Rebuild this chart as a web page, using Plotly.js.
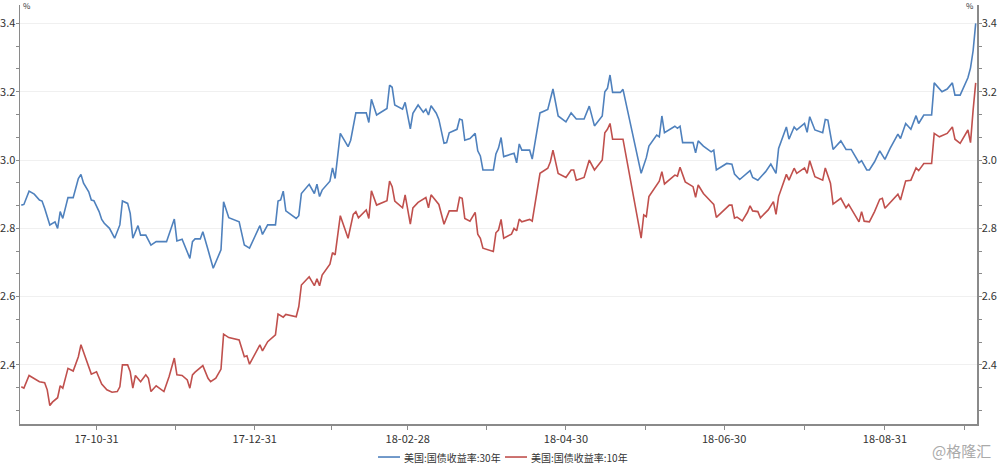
<!DOCTYPE html>
<html>
<head>
<meta charset="utf-8">
<script src="https://cdn.plot.ly/plotly-3.0.1.min.js"></script>
<style>html,body{margin:0;padding:0;background:#fff;}#chart{width:1000px;height:464px;}</style>
</head>
<body>
<div id="chart"></div>
<script>
// ---- data ----
const name30 = '美国:国债收益率:30年';
const name10 = '美国:国债收益率:10年';

const dates30 = ['2017-10-02','2017-10-03','2017-10-05','2017-10-07','2017-10-09','2017-10-10','2017-10-11','2017-10-13','2017-10-15','2017-10-16',
'2017-10-17','2017-10-18','2017-10-20','2017-10-22','2017-10-24','2017-10-25','2017-10-26','2017-10-28','2017-10-29','2017-10-30',
'2017-11-01','2017-11-02','2017-11-03','2017-11-05','2017-11-07','2017-11-09','2017-11-10','2017-11-12','2017-11-13','2017-11-14',
'2017-11-16','2017-11-17','2017-11-19','2017-11-21','2017-11-23','2017-11-27','2017-11-30','2017-12-01','2017-12-03','2017-12-06',
'2017-12-07','2017-12-08','2017-12-10','2017-12-11','2017-12-13','2017-12-15','2017-12-18','2017-12-19','2017-12-21','2017-12-25',
'2017-12-27','2017-12-29','2018-01-02','2018-01-03','2018-01-05','2018-01-08','2018-01-09','2018-01-10','2018-01-11','2018-01-12',
'2018-01-16','2018-01-17','2018-01-18','2018-01-21','2018-01-23','2018-01-24','2018-01-25','2018-01-26','2018-01-29','2018-01-30',
'2018-01-31','2018-02-02','2018-02-05','2018-02-06','2018-02-08','2018-02-12','2018-02-13','2018-02-14','2018-02-16','2018-02-20',
'2018-02-21','2018-02-22','2018-02-23','2018-02-26','2018-02-27','2018-03-01','2018-03-02','2018-03-04','2018-03-06','2018-03-07',
'2018-03-08','2018-03-09','2018-03-11','2018-03-12','2018-03-14','2018-03-15','2018-03-16','2018-03-19','2018-03-20','2018-03-21',
'2018-03-22','2018-03-24','2018-03-26','2018-03-27','2018-03-28','2018-03-29','2018-04-02','2018-04-03','2018-04-04','2018-04-05',
'2018-04-06','2018-04-10','2018-04-11','2018-04-12','2018-04-13','2018-04-16','2018-04-17','2018-04-19','2018-04-20','2018-04-23',
'2018-04-24','2018-04-25','2018-04-27','2018-04-30','2018-05-02','2018-05-04','2018-05-07','2018-05-09','2018-05-11','2018-05-14',
'2018-05-15','2018-05-16','2018-05-17','2018-05-18','2018-05-21','2018-05-22','2018-05-29','2018-05-31','2018-06-01','2018-06-04',
'2018-06-05','2018-06-06','2018-06-07','2018-06-11','2018-06-12','2018-06-13','2018-06-14','2018-06-18','2018-06-19','2018-06-20',
'2018-06-22','2018-06-25','2018-06-26','2018-06-27','2018-07-01','2018-07-03','2018-07-04','2018-07-06','2018-07-10','2018-07-11',
'2018-07-13','2018-07-16','2018-07-18','2018-07-20','2018-07-21','2018-07-24','2018-07-25','2018-07-27','2018-07-28','2018-07-31',
'2018-08-01','2018-08-02','2018-08-04','2018-08-07','2018-08-08','2018-08-09','2018-08-11','2018-08-14','2018-08-16','2018-08-18',
'2018-08-21','2018-08-22','2018-08-24','2018-08-25','2018-08-27','2018-08-29','2018-08-31','2018-09-02','2018-09-05','2018-09-06',
'2018-09-08','2018-09-10','2018-09-12','2018-09-13','2018-09-15','2018-09-18','2018-09-19','2018-09-22','2018-09-24','2018-09-26',
'2018-09-27','2018-09-29','2018-10-02','2018-10-03','2018-10-04','2018-10-05'];
const values30 = [2.868,2.870,2.909,2.900,2.883,2.880,2.859,2.810,2.819,2.800,
2.849,2.829,2.890,2.890,2.946,2.958,2.932,2.907,2.883,2.881,
2.849,2.826,2.815,2.800,2.771,2.810,2.880,2.873,2.844,2.771,
2.808,2.780,2.780,2.751,2.761,2.761,2.827,2.763,2.768,2.712,
2.761,2.769,2.769,2.790,2.737,2.683,2.737,2.878,2.831,2.819,
2.751,2.742,2.808,2.782,2.810,2.810,2.880,2.883,2.909,2.851,
2.829,2.837,2.902,2.929,2.902,2.929,2.893,2.912,2.938,2.977,
2.946,3.078,3.039,3.058,3.138,3.138,3.110,3.178,3.132,3.151,
3.219,3.213,3.161,3.149,3.169,3.091,3.137,3.161,3.140,3.149,
3.132,3.159,3.137,3.119,3.049,3.051,3.080,3.090,3.120,3.117,
3.058,3.063,3.078,3.027,3.012,2.971,2.971,3.018,3.035,3.066,
3.010,3.020,2.992,3.047,3.029,3.029,3.003,3.097,3.138,3.148,
3.176,3.208,3.129,3.112,3.138,3.120,3.120,3.158,3.100,3.129,
3.200,3.210,3.249,3.198,3.198,3.207,2.961,3.007,3.041,3.073,
3.068,3.129,3.080,3.099,3.093,3.099,3.051,3.051,3.021,3.056,
3.041,3.024,3.029,2.971,2.990,2.988,2.959,2.943,2.969,2.949,
2.941,2.966,2.988,2.961,3.034,3.097,3.061,3.097,3.088,3.107,
3.081,3.127,3.088,3.080,3.119,3.117,3.031,3.056,3.031,3.031,
2.992,2.998,2.971,2.971,2.995,3.027,3.002,3.034,3.076,3.063,
3.107,3.090,3.130,3.107,3.132,3.132,3.226,3.200,3.208,3.226,
3.190,3.190,3.241,3.270,3.320,3.400];

const dates10 = ['2017-10-02','2017-10-03','2017-10-05','2017-10-09','2017-10-11','2017-10-12','2017-10-13','2017-10-14','2017-10-16','2017-10-17',
'2017-10-18','2017-10-20','2017-10-22','2017-10-24','2017-10-25','2017-10-27','2017-10-28','2017-10-29','2017-10-31','2017-11-02',
'2017-11-04','2017-11-06','2017-11-08','2017-11-09','2017-11-10','2017-11-12','2017-11-13','2017-11-14','2017-11-15','2017-11-17',
'2017-11-19','2017-11-20','2017-11-21','2017-11-23','2017-11-26','2017-11-28','2017-11-30','2017-12-01','2017-12-03','2017-12-05',
'2017-12-06','2017-12-07','2017-12-08','2017-12-10','2017-12-11','2017-12-13','2017-12-14','2017-12-16','2017-12-18','2017-12-19',
'2017-12-21','2017-12-25','2017-12-27','2017-12-28','2017-12-29','2018-01-02','2018-01-03','2018-01-05','2018-01-08','2018-01-09',
'2018-01-11','2018-01-12','2018-01-16','2018-01-17','2018-01-18','2018-01-21','2018-01-23','2018-01-24','2018-01-25','2018-01-26',
'2018-01-29','2018-01-30','2018-01-31','2018-02-02','2018-02-05','2018-02-07','2018-02-08','2018-02-09','2018-02-12','2018-02-13',
'2018-02-14','2018-02-16','2018-02-20','2018-02-21','2018-02-22','2018-02-23','2018-02-26','2018-02-27','2018-03-01','2018-03-02',
'2018-03-04','2018-03-07','2018-03-08','2018-03-09','2018-03-12','2018-03-14','2018-03-16','2018-03-19','2018-03-20','2018-03-21',
'2018-03-22','2018-03-24','2018-03-26','2018-03-27','2018-03-28','2018-03-29','2018-04-02','2018-04-03','2018-04-04','2018-04-05',
'2018-04-06','2018-04-09','2018-04-10','2018-04-11','2018-04-12','2018-04-13','2018-04-16','2018-04-17','2018-04-19','2018-04-20',
'2018-04-23','2018-04-24','2018-04-25','2018-04-27','2018-04-30','2018-05-02','2018-05-03','2018-05-04','2018-05-07','2018-05-09',
'2018-05-11','2018-05-14','2018-05-15','2018-05-16','2018-05-17','2018-05-18','2018-05-22','2018-05-29','2018-05-30','2018-05-31',
'2018-06-01','2018-06-05','2018-06-06','2018-06-07','2018-06-11','2018-06-12','2018-06-13','2018-06-15','2018-06-18','2018-06-19',
'2018-06-20','2018-06-22','2018-06-25','2018-06-26','2018-06-27','2018-07-02','2018-07-03','2018-07-04','2018-07-05','2018-07-07',
'2018-07-09','2018-07-10','2018-07-11','2018-07-13','2018-07-14','2018-07-17','2018-07-19','2018-07-20','2018-07-21','2018-07-24',
'2018-07-25','2018-07-27','2018-07-28','2018-07-31','2018-08-01','2018-08-02','2018-08-04','2018-08-07','2018-08-08','2018-08-10',
'2018-08-11','2018-08-14','2018-08-16','2018-08-17','2018-08-21','2018-08-22','2018-08-23','2018-08-25','2018-08-27','2018-08-29',
'2018-08-30','2018-08-31','2018-09-05','2018-09-06','2018-09-08','2018-09-10','2018-09-12','2018-09-13','2018-09-15','2018-09-18',
'2018-09-19','2018-09-21','2018-09-24','2018-09-26','2018-09-27','2018-09-29','2018-10-02','2018-10-03','2018-10-04','2018-10-05'];
const values10 = [2.336,2.332,2.369,2.351,2.348,2.327,2.281,2.291,2.304,2.339,
2.332,2.390,2.382,2.424,2.459,2.417,2.393,2.373,2.380,2.344,
2.327,2.320,2.322,2.336,2.400,2.400,2.380,2.332,2.369,2.351,
2.371,2.361,2.322,2.339,2.322,2.366,2.420,2.371,2.369,2.356,
2.332,2.371,2.379,2.390,2.398,2.361,2.351,2.361,2.388,2.490,
2.480,2.473,2.424,2.427,2.402,2.459,2.441,2.468,2.488,2.549,
2.540,2.548,2.541,2.571,2.634,2.658,2.632,2.652,2.632,2.663,
2.695,2.729,2.722,2.837,2.771,2.841,2.849,2.831,2.854,2.829,
2.910,2.868,2.881,2.938,2.922,2.880,2.860,2.898,2.812,2.860,
2.876,2.890,2.860,2.898,2.870,2.812,2.851,2.851,2.891,2.888,
2.829,2.821,2.847,2.783,2.771,2.742,2.732,2.787,2.795,2.826,
2.771,2.783,2.800,2.793,2.827,2.819,2.826,2.821,2.917,2.961,
2.976,2.995,3.029,2.961,2.949,2.971,2.971,2.941,2.949,3.000,
2.971,3.000,3.080,3.090,3.107,3.061,3.061,2.771,2.839,2.834,
2.893,2.938,2.966,2.930,2.956,2.953,2.979,2.936,2.922,2.891,
2.927,2.902,2.878,2.870,2.832,2.868,2.868,2.830,2.833,2.822,
2.847,2.866,2.851,2.849,2.831,2.854,2.878,2.841,2.893,2.958,
2.941,2.976,2.961,2.977,2.961,2.998,2.951,2.941,2.977,2.932,
2.871,2.888,2.860,2.870,2.819,2.849,2.821,2.819,2.849,2.885,
2.888,2.859,2.900,2.883,2.939,2.941,2.977,2.969,2.990,2.990,
3.078,3.068,3.078,3.097,3.061,3.049,3.088,3.051,3.146,3.226];

const xTickVals = ['2017-10-31','2017-12-31','2018-02-28','2018-04-30','2018-06-30','2018-08-31'];
const xTickText = ['17-10-31','17-12-31','18-02-28','18-04-30','18-06-30','18-08-31'];
const xMinorVals = ['2017-11-30 12:00','2018-01-29 12:00','2018-03-30 12:00','2018-05-30 12:00','2018-07-31','2018-09-30 18:00'];

// ---- chart ----
const color30 = '#4F81BD';
const color10 = '#C0504D';
const axisGray = '#8a8a8a';
const fontFamily = '"Microsoft YaHei", "Noto Sans CJK SC", sans-serif';
const tickFont = {family: fontFamily, size: 11, color: '#333'};
const legendFont = {family: fontFamily, size: 10, color: '#333'};
const yRange = [2.227, 3.454];

const traces = [
  {x: dates30, y: values30, name: name30, type: 'scatter', mode: 'lines',
   line: {color: color30, width: 1.6}, yaxis: 'y'},
  {x: dates10, y: values10, name: name10, type: 'scatter', mode: 'lines',
   line: {color: color10, width: 1.6}, yaxis: 'y2'}
];

const yCommon = {
  range: yRange, tickmode: 'linear', tick0: 2.4, dtick: 0.2, tickformat: '.1f',
  ticks: 'outside', ticklen: 3, tickcolor: axisGray, tickwidth: 1,
  ticklabelstandoff: -2,
  showline: true, linecolor: axisGray, linewidth: 1.5,
  zeroline: false, tickfont: tickFont, automargin: false,
  minor: {tick0: 2.4, dtick: 0.2/3, ticks: 'outside', ticklen: 3, tickcolor: axisGray, showgrid: false}
};

// legend (drawn as key lines + labels below the plot)
const legY = -0.0788;
const legendShapes = [
  {type: 'line', xref: 'paper', yref: 'paper', x0: 0.3741, x1: 0.3971, y0: legY, y1: legY,
   line: {color: color30, width: 1.6}},
  {type: 'line', xref: 'paper', yref: 'paper', x0: 0.5068, x1: 0.5298, y0: legY, y1: legY,
   line: {color: color10, width: 1.6}}
];
const legendLabels = [
  {text: name30, xref: 'paper', yref: 'paper', x: 0.3992, y: legY, xanchor: 'left', yanchor: 'middle',
   showarrow: false, font: legendFont},
  {text: name10, xref: 'paper', yref: 'paper', x: 0.5319, y: legY, xanchor: 'left', yanchor: 'middle',
   showarrow: false, font: legendFont}
];

const layout = {
  width: 1000, height: 464,
  margin: {l: 20, r: 23, t: 5, b: 40, autoexpand: false},
  paper_bgcolor: '#fff', plot_bgcolor: '#fff',
  font: tickFont,
  showlegend: false,
  xaxis: {
    type: 'date', range: ['2017-10-01 12:00', '2018-10-05 12:00'],
    tickmode: 'array', tickvals: xTickVals, ticktext: xTickText,
    ticks: 'outside', ticklen: 4, tickcolor: axisGray, tickwidth: 1,
    showline: true, linecolor: axisGray, linewidth: 1.5,
    showgrid: false, zeroline: false, tickfont: tickFont, automargin: false,
    minor: {tickmode: 'array', tickvals: xMinorVals, ticks: 'outside', ticklen: 4, tickcolor: axisGray, showgrid: false}
  },
  yaxis: Object.assign({}, yCommon, {side: 'left', showgrid: true, gridcolor: '#f0f0f0', gridwidth: 1}),
  yaxis2: Object.assign({}, yCommon, {side: 'right', overlaying: 'y', showgrid: false}),
  shapes: legendShapes,
  annotations: [
    {text: '%', xref: 'paper', yref: 'paper', x: 0, y: 1, xanchor: 'left', yanchor: 'middle', xshift: 1,
     showarrow: false, font: {family: fontFamily, size: 8, color: '#333'}},
    {text: '%', xref: 'paper', yref: 'paper', x: 1, y: 1, xanchor: 'right', yanchor: 'middle', xshift: -1,
     showarrow: false, font: {family: fontFamily, size: 8, color: '#333'}},
    {text: '@格隆汇', xref: 'paper', yref: 'paper', x: 1.0167, y: -0.064, xanchor: 'right', yanchor: 'middle',
     showarrow: false, font: {family: fontFamily, size: 15, color: '#aaaaaa'}}
  ].concat(legendLabels)
};

Plotly.newPlot('chart', traces, layout, {displayModeBar: false, staticPlot: true});
</script>
</body>
</html>
